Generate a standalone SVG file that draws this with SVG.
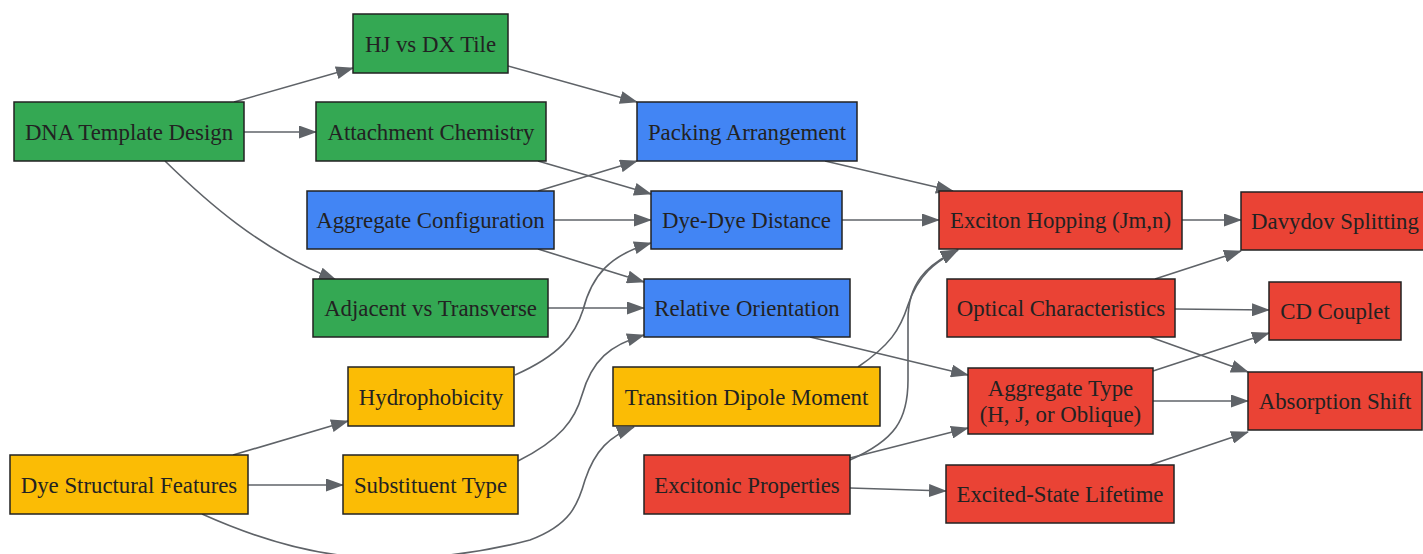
<svg xmlns="http://www.w3.org/2000/svg" width="1423" height="554" viewBox="0 0 1423 554">
<style>
rect{stroke:#222;stroke-width:1.5}
.g{fill:#34A853}.b{fill:#4285F4}.y{fill:#FBBC05}.r{fill:#EA4335}
text{font-family:"Liberation Serif","Times New Roman",serif;font-size:22.8px;fill:#222;text-anchor:middle;dominant-baseline:central}
#edges path{fill:none;stroke:#5f6368;stroke-width:1.6;marker-end:url(#ah)}
</style>
<defs>
<marker id="ah" markerUnits="userSpaceOnUse" markerWidth="18" markerHeight="13" refX="17" refY="6.5" orient="auto">
<path d="M0,0 L18,6.5 L0,13 z" fill="#5f6368"/>
</marker>
</defs>
<rect width="1423" height="554" fill="#fff" style="stroke:none"/>
<g id="edges">
<path d="M234,102 L353,68"/>
<path d="M244,132 L316,132"/>
<path d="M165,161 C205,200 260,250 336,280"/>
<path d="M508,66 L637,102"/>
<path d="M538,161 L651,194"/>
<path d="M538,191 L637,161"/>
<path d="M554,220 L651,220"/>
<path d="M538,249 L644,282"/>
<path d="M548,308 L644,308"/>
<path d="M515,375 C560,355 575,335 583,310 C592,275 610,255 651,243"/>
<path d="M518,461 C560,440 575,420 582,395 C592,360 610,345 644,335"/>
<path d="M233,455 L348,421"/>
<path d="M248,485 L343,485"/>
<path d="M202,514 C260,540 310,554 360,557 C410,560 470,556 530,540 C570,525 578,505 585,480 C595,450 610,436 634,427"/>
<path d="M825,161 L953,191"/>
<path d="M842,220 L939,220"/>
<path d="M810,337 L968,375"/>
<path d="M858,367 C890,345 900,330 908,305 C918,275 935,262 958,250"/>
<path d="M850,460 C895,440 908,420 908,380 L908,320 C908,285 925,265 958,250"/>
<path d="M850,458 L968,428"/>
<path d="M850,488 L946,491"/>
<path d="M1182,220 L1241,220"/>
<path d="M1155,279 L1241,251"/>
<path d="M1175,309 L1269,310"/>
<path d="M1150,337 L1248,372"/>
<path d="M1153,371 L1269,333"/>
<path d="M1153,401 L1248,401"/>
<path d="M1150,465 L1248,432"/>
</g>
<g id="dna"><rect class="g" x="14" y="102" width="230" height="59"/><text x="129" y="132">DNA Template Design</text></g>
<g id="hj"><rect class="g" x="353" y="14" width="155" height="59"/><text x="430.5" y="44">HJ vs DX Tile</text></g>
<g id="attach"><rect class="g" x="316" y="102" width="230" height="59"/><text x="431" y="132">Attachment Chemistry</text></g>
<g id="aggconf"><rect class="b" x="307" y="191" width="247" height="58"/><text x="430.5" y="220">Aggregate Configuration</text></g>
<g id="adjacent"><rect class="g" x="313" y="279" width="235" height="58"/><text x="430.5" y="308">Adjacent vs Transverse</text></g>
<g id="hydro"><rect class="y" x="348" y="367" width="166" height="59"/><text x="431" y="397">Hydrophobicity</text></g>
<g id="dyestruct"><rect class="y" x="10" y="455" width="238" height="59"/><text x="129" y="485">Dye Structural Features</text></g>
<g id="subst"><rect class="y" x="343" y="455" width="175" height="59"/><text x="430.5" y="485">Substituent Type</text></g>
<g id="packing"><rect class="b" x="637" y="102" width="220" height="59"/><text x="747" y="132">Packing Arrangement</text></g>
<g id="dyedye"><rect class="b" x="651" y="191" width="191" height="58"/><text x="746.5" y="220">Dye-Dye Distance</text></g>
<g id="relorient"><rect class="b" x="644" y="279" width="206" height="58"/><text x="747" y="308">Relative Orientation</text></g>
<g id="tdm"><rect class="y" x="613" y="367" width="267" height="59"/><text x="746.5" y="397">Transition Dipole Moment</text></g>
<g id="excitonic"><rect class="r" x="644" y="455" width="206" height="59"/><text x="747" y="485">Excitonic Properties</text></g>
<g id="hopping"><rect class="r" x="939" y="191" width="243" height="58"/><text x="1060.5" y="220">Exciton Hopping (Jm,n)</text></g>
<g id="optical"><rect class="r" x="947" y="279" width="228" height="58"/><text x="1061" y="308">Optical Characteristics</text></g>
<g id="aggtype"><rect class="r" x="968" y="368" width="185" height="66"/><text x="1060.5" y="388">Aggregate Type</text><text x="1060.5" y="414">(H, J, or Oblique)</text></g>
<g id="lifetime"><rect class="r" x="946" y="465" width="228" height="58"/><text x="1060" y="494">Excited-State Lifetime</text></g>
<g id="davydov"><rect class="r" x="1241" y="192" width="190" height="58"/><text x="1335" y="221">Davydov Splitting</text></g>
<g id="cd"><rect class="r" x="1269" y="282" width="132" height="58"/><text x="1335" y="311">CD Couplet</text></g>
<g id="absorption"><rect class="r" x="1248" y="372" width="174" height="58"/><text x="1335" y="401">Absorption Shift</text></g>
</svg>
